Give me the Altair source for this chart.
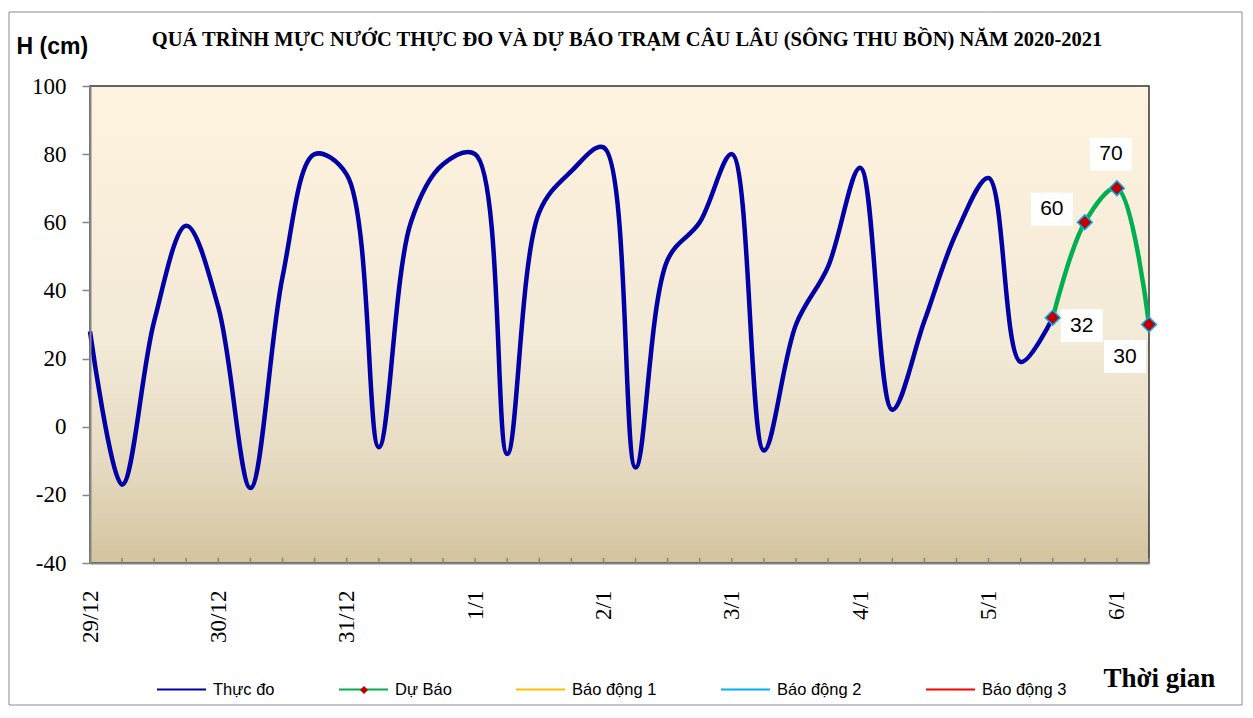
import altair as alt
import pandas as pd

# ---------------- data ----------------
title_text = "QUÁ TRÌNH MỰC NƯỚC THỰC ĐO VÀ DỰ BÁO TRẠM CÂU LÂU (SÔNG THU BỒN) NĂM  2020-2021"
day_labels = ["29/12", "30/12", "31/12", "1/1", "2/1", "3/1", "4/1", "5/1", "6/1"]
observed = [28, -17, 31, 59, 35, -18, 44, 80, 74, -6, 60, 77, 80, -8, 63, 75, 82,
            -12, 49, 60, 80, -7, 30, 47, 76, 5, 31, 57, 73, 19, 32]
forecast = [32, 60, 70, 30]
series = ["Thực đo", "Dự Báo", "Báo động 1", "Báo động 2", "Báo động 3"]
series_colors = ["#0000A6", "#00B050", "#FFC000", "#00B0F0", "#FF0000"]
y_ticks = [-40, -20, 0, 20, 40, 60, 80, 100]

fc_start = len(observed) - 1
n_last = fc_start + len(forecast) - 1  # 33
obs_df = pd.DataFrame({"idx": list(range(len(observed))), "h": observed, "series": series[0]})
fc_df = pd.DataFrame({"idx": list(range(fc_start, fc_start + len(forecast))), "h": forecast,
                      "series": series[1], "mk": series[1]})
tick_df = pd.DataFrame({"idx": list(range(n_last + 1))})
one_df = pd.DataFrame({"t": [title_text]})

W, H = 1059, 477

label_js = "[" + ",".join("'%s'" % d for d in day_labels) + "]"
xax = alt.Axis(values=list(range(n_last + 1)),
               labelExpr="datum.value % 4 == 0 ? " + label_js + "[datum.value / 4] : ''",
               labelAngle=270, labelAlign="right", labelBaseline="middle", labelPadding=27,
               labelFlush=False, labelOverlap=False, tickSize=0, grid=False,
               domainColor="#868686", domainWidth=2, zindex=1,
               labelFont="Liberation Serif", labelFontSize=23, labelColor="black",
               title="Thời gian", titleX=1013, titleY=123, titleAlign="left",
               titleBaseline="alphabetic", titleAngle=0, titleFont="Liberation Serif",
               titleFontSize=27, titleFontWeight="bold", titleColor="black")
yax = alt.Axis(values=y_ticks, labelExpr="'' + datum.value", tickSize=8, tickColor="#868686",
               tickWidth=1.5, grid=False,
               domainColor="#868686", domainWidth=2, zindex=1,
               labelFont="Liberation Serif", labelFontSize=23, labelColor="black",
               labelPadding=16,
               title="H (cm)", titleAngle=0, titleX=-74, titleY=-33, titleAlign="left",
               titleBaseline="alphabetic", titleFont="Liberation Sans", titleFontSize=23,
               titleFontWeight="bold", titleColor="black")
xsc = alt.Scale(domain=[0, n_last], nice=False, zero=False)
ysc = alt.Scale(domain=[-40, 100], nice=False, zero=False)

X = alt.X("idx:Q", scale=xsc, axis=xax)
Y = alt.Y("h:Q", scale=ysc, axis=yax)

grad = alt.Gradient(gradient="linear", x1=0, x2=0, y1=0, y2=1,
                    stops=[alt.GradientStop(offset=0, color="#FEF3DF"),
                           alt.GradientStop(offset=0.55, color="#F2E9D6"),
                           alt.GradientStop(offset=0.8, color="#E5DAC0"),
                           alt.GradientStop(offset=1, color="#D3C39E")])

bg = alt.Chart(one_df).mark_rect(color=grad, stroke="#333333", strokeWidth=1.5).encode(
    x=alt.X(datum=0, type="quantitative", scale=xsc, axis=xax),
    x2=alt.datum(n_last),
    y=alt.Y(datum=-40, type="quantitative", scale=ysc, axis=yax),
    y2=alt.datum(100),
)

ticks = alt.Chart(tick_df).mark_rule(color="#868686", strokeWidth=1.5).encode(
    x=X, y=alt.datum(-40), y2=alt.datum(-38.5)
)

color = alt.Color("series:N", scale=alt.Scale(domain=series, range=series_colors),
                  legend=alt.Legend(orient="none", legendX=66, legendY=578, direction="horizontal",
                                    title=None, symbolType="stroke", symbolSize=2401,
                                    symbolStrokeWidth=2, columnPadding=60, labelOffset=6,
                                    labelFont="Liberation Sans", labelFontSize=16.5,
                                    labelColor="black", padding=0))

obs_line = alt.Chart(obs_df).mark_line(strokeWidth=4.5, interpolate="catmull-rom").encode(
    x=X, y=Y, color=color)
fc_line = alt.Chart(fc_df).mark_line(strokeWidth=4.5, interpolate="catmull-rom").encode(
    x=X, y=Y, color=color)

pts = alt.Chart(fc_df).mark_point(filled=True, fill="#C00000", stroke="#00B0F0",
                                  strokeWidth=1.5, size=220, opacity=1).encode(
    x=X, y=Y,
    shape=alt.Shape("mk:N", scale=alt.Scale(domain=[series[1]], range=["diamond"]),
                    legend=alt.Legend(orient="none", legendX=269, legendY=599, title=None,
                                      symbolFillColor="#C00000", symbolStrokeColor="#00B0F0",
                                      symbolStrokeWidth=1.5, symbolSize=64, labelExpr="''",
                                      labelFontSize=1, padding=0))
)

offsets = [(29, 8), (-33, -13), (-6, -34), (-24, 32)]
label_layers = []
for i, (dx, dy) in enumerate(offsets):
    sub = fc_df.iloc[[i]]
    label_layers.append(alt.Chart(sub).mark_rect(width=42, height=33, xOffset=dx, yOffset=dy,
                                                 color="white").encode(x=X, y=Y))
    label_layers.append(alt.Chart(sub).mark_text(dx=dx, dy=dy, font="Liberation Sans",
                                                 fontSize=21, color="black", align="center",
                                                 baseline="middle").encode(
        x=X, y=Y, text=alt.Text("h:Q")))

frame = alt.Chart(one_df).mark_rect(fillOpacity=0, stroke="#8C8C8C", strokeWidth=1).encode(
    x=alt.value(-81), x2=alt.value(1152), y=alt.value(-74), y2=alt.value(619))

title = alt.Chart(one_df).mark_text(font="Liberation Serif", fontSize=20.5, fontWeight="bold",
                                    color="black", align="center", baseline="alphabetic").encode(
    text="t:N", x=alt.value(537), y=alt.value(-40))

chart = alt.layer(frame, bg, ticks, obs_line, fc_line, *label_layers, pts, title).properties(
    width=W, height=H,
    autosize=alt.AutoSizeParams(type="none"),
    padding={"left": 82, "top": 78, "right": 94, "bottom": 143},
).configure(background="white").configure_view(stroke=None)

chart.save("out.html", embed_options={"renderer": "svg", "actions": False})
